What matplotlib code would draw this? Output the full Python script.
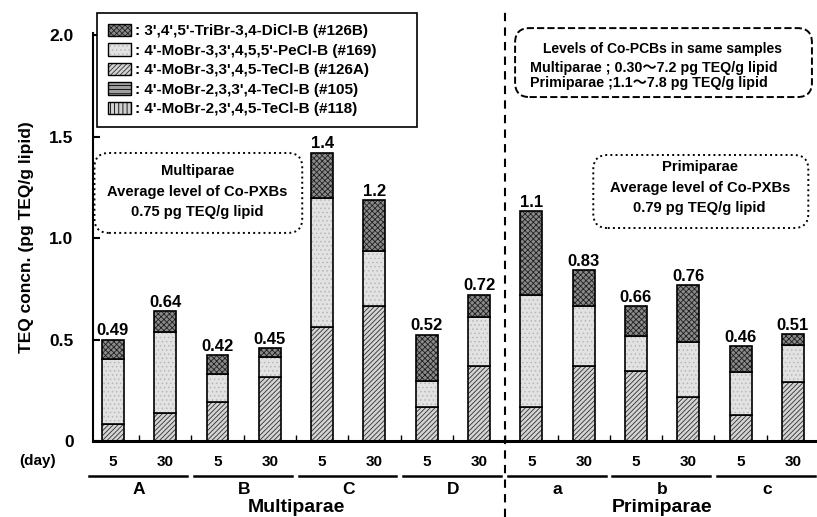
import numpy as np
import matplotlib.pyplot as plt
from matplotlib.patches import Patch, FancyBboxPatch
from matplotlib.legend_handler import HandlerTuple

plt.rcParams['font.family'] = ['Liberation Sans', 'Noto Sans CJK JP', 'DejaVu Sans']
plt.rcParams['font.weight'] = 'bold'
plt.rcParams['hatch.linewidth'] = 0.6

# sample / day layout
donors = ['A', 'A', 'B', 'B', 'C', 'C', 'D', 'D', 'a', 'a', 'b', 'b', 'c', 'c']
days = ['5', '30', '5', '30', '5', '30', '5', '30', '5', '30', '5', '30', '5', '30']
parity = ['Multiparae'] * 8 + ['Primiparae'] * 6

# TEQ (pg TEQ/g lipid) per congener
v118 = [0.0] * 14
v105 = [0.0] * 14
v126a = [0.085, 0.137, 0.19, 0.313, 0.564, 0.663, 0.166, 0.37, 0.166, 0.37, 0.346, 0.216, 0.128, 0.29]
v169 = [0.32, 0.398, 0.14, 0.10, 0.631, 0.272, 0.132, 0.241, 0.552, 0.293, 0.173, 0.274, 0.214, 0.181]
v126b = [0.094, 0.104, 0.094, 0.043, 0.226, 0.252, 0.225, 0.11, 0.414, 0.178, 0.144, 0.277, 0.124, 0.056]
total_labels = ['0.49', '0.64', '0.42', '0.45', '1.4', '1.2', '0.52', '0.72',
                '1.1', '0.83', '0.66', '0.76', '0.46', '0.51']

# bottom -> top in the stack: (label, values, face, hatch colour, hatch)
components = [
    ("4'-MoBr-2,3',4,5-TeCl-B (#118)", v118, '#d0d0d0', 'black', '||||'),
    ("4'-MoBr-2,3,3',4-TeCl-B (#105)", v105, '#a0a0a0', 'black', '----'),
    ("4'-MoBr-3,3',4,5-TeCl-B (#126A)", v126a, '#d4d4d4', '#303030', '///////'),
    ("4'-MoBr-3,3',4,5,5'-PeCl-B (#169)", v169, '#e2e2e2', '#b8b8b8', '....'),
    ("3',4',5'-TriBr-3,4-DiCl-B (#126B)", v126b, '#8a8a8a', '#202020', 'xxxxxx'),
]

W, H = 817, 517
fig = plt.figure(figsize=(W / 100, H / 100), dpi=100)
ax = fig.add_axes([93 / W, 76 / H, 724 / W, 408 / H])

x = np.arange(len(donors))
width = 0.42
bottom = np.zeros(len(x))
handles = []
for name, vals, fc, hc, hatch in components:
    vals = np.array(vals)
    ax.bar(x, vals, width, bottom=bottom, color=fc, edgecolor=hc, hatch=hatch, linewidth=0)
    ax.bar(x, vals, width, bottom=bottom, fill=False, edgecolor='black', linewidth=1.2)
    bottom += vals
    handles.append((Patch(facecolor=fc, edgecolor=hc, hatch=hatch, linewidth=0),
                    Patch(fill=False, edgecolor='black', linewidth=1.0)))

for xi, tot, lab in zip(x, bottom, total_labels):
    ax.annotate(lab, (xi, tot), xytext=(0, 1), textcoords='offset points',
                ha='center', va='bottom', fontsize=12, fontweight='bold')

ax.set_xlim(-0.38, 13.46)
ax.set_ylim(0, 2.01)
ax.set_yticks([0, 0.5, 1.0, 1.5, 2.0])
ax.set_yticklabels(['0', '0.5', '1.0', '1.5', '2.0'])
ax.tick_params(axis='y', direction='in', length=5, width=1.5, labelsize=12.5, pad=14)
ax.set_xticks(x)
ax.set_xticklabels(days)
ax.set_xticks(x[:-1] + 0.5, minor=True)
ax.tick_params(axis='x', which='major', length=0, labelsize=11, pad=10)
ax.tick_params(axis='x', which='minor', direction='in', length=4, width=1)
for s in ['top', 'right']:
    ax.spines[s].set_visible(False)
ax.spines['left'].set_linewidth(1.5)
ax.spines['bottom'].set_linewidth(2.2)

ax.set_ylabel('TEQ concn. (pg TEQ/g lipid)', fontsize=12.5, fontweight='bold')
ax.yaxis.set_label_coords(-0.081, 0.5)

# day label, group underlines and names
xt = ax.get_xaxis_transform()
ax.text(-0.076, -0.049, '(day)', transform=ax.transAxes, ha='center', va='center', fontsize=11)
for g in dict.fromkeys(donors):
    xs = x[np.array(donors) == g]
    ax.plot([xs.min() - 0.45, xs.max() + 0.42], [-0.086, -0.086], transform=xt,
            color='black', lw=1.8, clip_on=False)
    ax.text(xs.mean(), -0.118, g, transform=xt, ha='center', va='center', fontsize=12.5)
for p in dict.fromkeys(parity):
    xs = x[np.array(parity) == p]
    ax.text(xs.mean(), -0.162, p, transform=xt, ha='center', va='center', fontsize=14)

# dashed divider between the two groups
ax.plot([7.5, 7.5], [-0.375, 2.118], color='black', lw=1.5, ls=(0, (4, 3)), clip_on=False)

# legend, stretched to the width of the original box
leg = fig.legend(handles[::-1], [': ' + c[0] for c in components[::-1]],
                 handler_map={tuple: HandlerTuple(ndivide=1)},
                 loc='upper left', bbox_to_anchor=(97 / W, 1 - 130 / H, 320 / W, 117 / H),
                 mode='expand', fontsize=11, frameon=True, fancybox=False, edgecolor='black',
                 framealpha=1, handlelength=1.5, handleheight=0.9, labelspacing=0.32,
                 handletextpad=0.3, borderpad=0.7, borderaxespad=0)
leg.get_frame().set_linewidth(1.2)

# annotation boxes
asp = 724 / 408
def rbox(x0, y0, x1, y1, ls):
    b = FancyBboxPatch((x0, y0), x1 - x0, y1 - y0, boxstyle='round,pad=0,rounding_size=0.02',
                       mutation_aspect=asp, transform=ax.transAxes, facecolor='white',
                       edgecolor='black', lw=1.4, ls=ls, clip_on=False, zorder=3)
    ax.add_patch(b)

rbox(0.002, 0.51, 0.289, 0.706, ':')
for yy, t in zip([0.662, 0.610, 0.561], ['Multiparae', 'Average level of Co-PXBs', '0.75 pg TEQ/g lipid']):
    ax.text(0.144, yy, t, transform=ax.transAxes, ha='center', va='center', fontsize=10.6, zorder=4)

rbox(0.691, 0.522, 0.988, 0.701, ':')
for yy, t in zip([0.672, 0.620, 0.571], ['Primiparae', 'Average level of Co-PXBs', '0.79 pg TEQ/g lipid']):
    ax.text(0.838, yy, t, transform=ax.transAxes, ha='center', va='center', fontsize=10.6, zorder=4)

rbox(0.583, 0.843, 0.993, 1.012, '--')
ax.text(0.786, 0.961, 'Levels of Co-PCBs in same samples', transform=ax.transAxes,
        ha='center', va='center', fontsize=10, zorder=4)
ax.text(0.604, 0.914, 'Multiparae ; 0.30～7.2 pg TEQ/g lipid', transform=ax.transAxes,
        ha='left', va='center', fontsize=10.3, zorder=4)
ax.text(0.604, 0.877, 'Primiparae ;1.1～7.8 pg TEQ/g lipid', transform=ax.transAxes,
        ha='left', va='center', fontsize=10.3, zorder=4)

fig.savefig('out.png', dpi=100)
